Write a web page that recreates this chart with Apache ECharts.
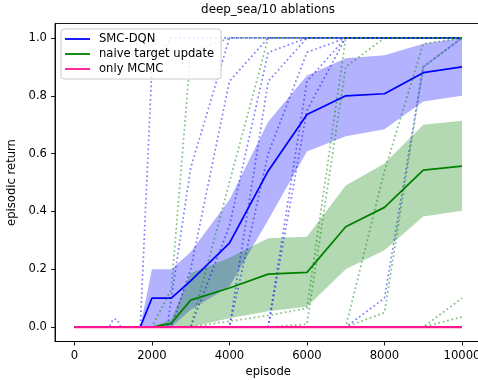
<!DOCTYPE html>
<html>
<head>
<meta charset="utf-8">
<script src="https://cdn.jsdelivr.net/npm/echarts@6/dist/echarts.min.js"></script>
<style>
  html, body { margin: 0; padding: 0; background: #fff; }
  #chart { width: 478px; height: 380px; }
</style>
</head>
<body>
<div id="chart"></div>
<script>
// evaluation episodes used by the mean / band curves
var episodes = [0, 1700, 2000, 2500, 3000, 4000, 5000, 6000, 7000, 8000, 9000, 10000];

var smcMean = [0, 0, 0.1, 0.1, 0.16, 0.29, 0.54, 0.735, 0.80, 0.807, 0.88, 0.90];
var smcLow  = [0, 0, 0.0, 0.0, 0.06, 0.14, 0.37, 0.607, 0.66, 0.684, 0.78, 0.80];
var smcHigh = [0, 0, 0.2, 0.2, 0.26, 0.44, 0.71, 0.87, 0.93, 0.94, 0.98, 1.0];

var naiveMean = [0, 0, 0, 0.013, 0.093, 0.135, 0.183, 0.189, 0.347, 0.414, 0.543, 0.557];
var naiveLow  = [0, 0, 0, 0.0, 0.0, 0.03, 0.055, 0.07, 0.20, 0.266, 0.382, 0.402];
var naiveHigh = [0, 0, 0, 0.026, 0.186, 0.24, 0.307, 0.312, 0.49, 0.566, 0.70, 0.714];

var mcmcMean = [0, 0, 0, 0, 0, 0, 0, 0, 0, 0, 0, 0];

// single seeds, [episode, return]
var smcSeeds = [
    [[0,0],[1700,0],[2000,0.9],[2500,1],[10000,1]],
    [[0,0],[2400,0],[2500,0.1],[3000,0.55],[4000,1],[10000,1]],
    [[0,0],[2500,0],[3000,0.2],[4000,0.85],[5000,1],[10000,1]],
    [[0,0],[3000,0],[4000,0.35],[5000,0.95],[6000,1],[10000,1]],
    [[0,0],[4000,0],[5000,0.85],[6000,1],[10000,1]],
    [[0,0],[4000,0],[5000,0.6],[6000,0.95],[7000,1],[10000,1]],
    [[0,0],[5000,0],[6000,0.85],[7000,1],[10000,1]],
    [[0,0],[5000,0],[6000,0.75],[7000,1],[10000,1]],
    [[0,0],[7000,0],[8000,0.1],[9000,0.9],[10000,1]],
    [[0,0],[900,0],[1000,0.027],[1100,0.027],[1200,0],[10000,0]]
];
var naiveSeeds = [
    [[0,0],[2000,0],[2500,0.13],[3000,0.95],[4000,1],[10000,1]],
    [[0,0],[3000,0],[4000,0.5],[5000,1],[10000,1]],
    [[0,0],[3000,0],[4000,0.02],[5000,0.04],[6000,0.065],[7000,1],[10000,1]],
    [[0,0],[5000,0],[6000,0.01],[7000,0.9],[8000,1],[10000,1]],
    [[0,0],[7000,0],[8000,0.54],[9000,0.98],[10000,1]],
    [[0,0],[7000,0],[8000,0.05],[9000,0.9],[10000,1]],
    [[0,0],[9000,0],[10000,0.1]],
    [[0,0],[9000,0],[10000,0.035]]
];

var xTicks = [0, 2000, 4000, 6000, 8000, 10000];
var yTicks = [0, 0.2, 0.4, 0.6, 0.8, 1.0];

var font = 'DejaVu Sans';
var fs = 11.6;

function pairs(xs, ys){
    return xs.map(function(x, i){ return [x, ys[i]]; });
}

function seedSeries(list, color){
    return list.map(function(d){
        return {
            type: 'line',
            data: d,
            symbol: 'none',
            silent: true,
            lineStyle: { color: color, width: 1.7, type: [1.7, 2.8], opacity: 0.5 }
        };
    });
}

// filled band between low and high, one polygon through the axis scales
function bandSeries(low, high, color){
    var data = episodes.map(function(x, i){ return [x, low[i], high[i]]; });
    return {
        type: 'custom',
        silent: true,
        clip: true,
        data: data,
        encode: { x: 0, y: [1, 2] },
        renderItem: function(params, api){
            if (params.dataIndex !== 0) return;
            var pts = [];
            for (var i = 0; i < data.length; i++) pts.push(api.coord([data[i][0], data[i][2]]));
            for (var j = data.length - 1; j >= 0; j--) pts.push(api.coord([data[j][0], data[j][1]]));
            return {
                type: 'polygon',
                shape: { points: pts },
                style: { fill: color, opacity: 0.3 }
            };
        }
    };
}

function meanSeries(name, ys, color, width){
    return {
        name: name,
        type: 'line',
        data: pairs(episodes, ys),
        symbol: 'none',
        itemStyle: { color: color },
        lineStyle: { color: color, width: width }
    };
}

var series = [];
series = series.concat(seedSeries(smcSeeds, '#0000ff'));
series.push(bandSeries(smcLow, smcHigh, '#0000ff'));
series.push(meanSeries('SMC-DQN', smcMean, '#0000ff', 1.75));
series = series.concat(seedSeries(naiveSeeds, '#008000'));
series.push(bandSeries(naiveLow, naiveHigh, '#008000'));
series.push(meanSeries('naive target update', naiveMean, '#008000', 1.75));
series.push(meanSeries('only MCMC', mcmcMean, '#ff1493', 2.3));

var chartDom = document.getElementById('chart');
var myChart = echarts.init(chartDom);

option = {
    animation: false,
    backgroundColor: '#fff',
    title: {
        text: 'deep_sea/10 ablations',
        left: 268,
        top: 4,
        padding: 0,
        textAlign: 'center',
        textStyle: { fontFamily: font, fontSize: 11.9, fontWeight: 'normal', color: '#000' }
    },
    legend: {
        data: [
            { name: 'SMC-DQN', icon: 'rect' },
            { name: 'naive target update', icon: 'rect' },
            { name: 'only MCMC', icon: 'rect' }
        ],
        orient: 'vertical',
        left: 61,
        top: 29,
        itemWidth: 25,
        itemHeight: 1.8,
        itemGap: 3,
        padding: [4, 7, 4, 4],
        backgroundColor: 'rgba(255,255,255,0.8)',
        borderColor: '#cccccc',
        borderWidth: 1,
        borderRadius: 3,
        textStyle: { fontFamily: font, fontSize: fs, color: '#000', padding: [0, 0, 0, 4] }
    },
    grid: {
        left: 55,
        right: -3.4,
        top: 23.5,
        bottom: 38.5,
        show: true,
        borderColor: '#000',
        borderWidth: 0.9,
        containLabel: false,
        outerBoundsMode: 'none'
    },
    xAxis: {
        type: 'value',
        min: -500,
        max: 10500,
        name: 'episode',
        nameLocation: 'middle',
        nameGap: 23,
        nameTextStyle: { fontFamily: font, fontSize: fs, color: '#000' },
        axisLine: { show: true, onZero: false, lineStyle: { color: '#000', width: 0.9 } },
        axisTick: { show: true, length: 4, lineStyle: { color: '#000', width: 0.9 }, customValues: xTicks },
        axisLabel: {
            show: true, margin: 8, color: '#000', fontFamily: font, fontSize: fs,
            customValues: xTicks,
            formatter: function (v) { return String(v); }
        },
        splitLine: { show: false }
    },
    yAxis: {
        type: 'value',
        min: -0.05,
        max: 1.05,
        name: 'episodic return',
        nameLocation: 'middle',
        nameGap: 29,
        nameTextStyle: { fontFamily: font, fontSize: fs, color: '#000' },
        axisLine: { show: true, onZero: false, lineStyle: { color: '#000', width: 0.9 } },
        axisTick: { show: true, length: 4, lineStyle: { color: '#000', width: 0.9 }, customValues: yTicks },
        axisLabel: {
            show: true, margin: 8, color: '#000', fontFamily: font, fontSize: fs,
            customValues: yTicks,
            formatter: function (v) { return v.toFixed(1); }
        },
        splitLine: { show: false }
    },
    series: series
};

option && myChart.setOption(option);
</script>
</body>
</html>
